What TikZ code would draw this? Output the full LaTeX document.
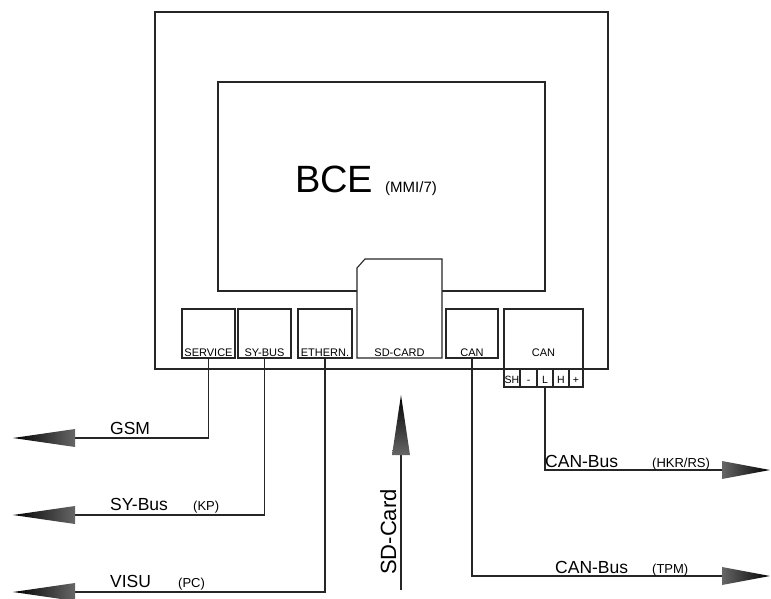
\documentclass[tikz,border=0pt]{standalone}
\usepackage{fontspec}
\setmainfont{Liberation Sans}
\begin{document}
\begin{tikzpicture}[x=1pt,y=-1pt, line join=miter,
 ln/.style={line width=1.1pt, draw=black!85},
 box/.style={ln, rectangle, inner sep=0pt, outer sep=0pt, anchor=north west},
 lbl/.style={font=\fontsize{11}{12}\selectfont, inner sep=0pt, anchor=base},
 pinlbl/.style={font=\fontsize{10.5}{11}\selectfont, inner sep=0pt, anchor=base},
 big/.style={font=\fontsize{17.5}{20}\selectfont, inner sep=0pt, anchor=base west},
 sml/.style={font=\fontsize{13}{15}\selectfont, inner sep=0pt, anchor=base west},
 arrL/.style={left color=black, right color=black!60},
 arrR/.style={right color=black, left color=black!60},
 arrU/.style={top color=black, bottom color=black!60}]
\useasboundingbox (0,0) rectangle (771,599);
% housing
\node[box, minimum width=453pt, minimum height=357pt] (outer) at (155,12) {};
\node[box, line width=1.5pt, minimum width=327pt, minimum height=209pt] (disp) at (218,82) {};
\node[font=\fontsize{38}{40}\selectfont, anchor=base west, inner sep=0pt] (bce) at (295,192) {BCE};
\node[font=\fontsize{15}{17}\selectfont, anchor=base west, inner sep=0pt] (mmi) at (385,192) {(MMI/7)};
% SD card
\draw[ln, fill=white] (357,358) -- (357,268) -- (365,259) -- (442,259) -- (442,358) -- cycle;
\node[lbl] (sdlbl) at (399.5,356) {SD-CARD};
% ports
\node[box, minimum width=53pt, minimum height=49pt] (service) at (182,309) {};
\node[box, minimum width=53pt, minimum height=49pt] (sybus) at (238,309) {};
\node[box, minimum width=54pt, minimum height=49pt] (ethern) at (298,309) {};
\node[box, minimum width=52pt, minimum height=49pt] (canA) at (446,309) {};
\node[box, minimum width=79pt, minimum height=78pt] (canB) at (504,309) {};
\draw[ln] (outer.south west) -- (outer.south east);
\node[lbl] (servicelbl) at (208.5,356) {SERVICE};
\node[lbl] (sybuslbl) at (264.5,356) {SY-BUS};
\node[lbl] (ethernlbl) at (325,356) {ETHERN.};
\node[lbl] (canAlbl) at (472,356) {CAN};
\node[lbl] (canBlbl) at (543.5,356) {CAN};
% pins
\draw[ln] (520,369) -- (520,387) (537,369) -- (537,387) (553,369) -- (553,387) (569,369) -- (569,387);
\node[pinlbl] (pSH) at (512,383.5) {SH};
\node[pinlbl] (pM) at (528.5,383.5) {-};
\node[pinlbl] (pL) at (545,383.5) {L};
\node[pinlbl] (pH) at (561,383.5) {H};
\node[pinlbl] (pP) at (576,383.5) {+};
\coordinate (pinL) at (545,387);
% connectors
\coordinate (gsmA) at (75,438);
\coordinate (syA) at (75,515);
\coordinate (visuA) at (75,592);
\coordinate (hkrA) at (722,470);
\coordinate (tpmA) at (722,576);
\coordinate (sdA) at (401,455);
\coordinate (sdB) at (401,590);
\draw[ln] (service.south) |- (gsmA);
\draw[ln] (sybus.south) |- (syA);
\draw[ln] (ethern.south) |- (visuA);
\draw[ln] (pinL) |- (hkrA);
\draw[ln] (canA.south) |- (tpmA);
\draw[ln] (sdB) -- (sdA);
% arrow heads
\shade[arrL] (gsmA) ++(0,-9) -- ++(-62,9) -- ++(62,9) -- cycle;
\shade[arrL] (syA) ++(0,-9) -- ++(-62,9) -- ++(62,9) -- cycle;
\shade[arrL] (visuA) ++(0,-9) -- ++(-62,9) -- ++(62,9) -- cycle;
\shade[arrR] (hkrA) ++(0,-9) -- ++(48,9) -- ++(-48,9) -- cycle;
\shade[arrR] (tpmA) ++(0,-9) -- ++(48,9) -- ++(-48,9) -- cycle;
\shade[arrU] (sdA) ++(-9,0) -- ++(9,-60) -- ++(9,60) -- cycle;
% labels
\node[big] (gsm) at (110,434) {GSM};
\node[big] (syt) at (110,510) {SY-Bus};
\node[sml] (kp) at (193,510) {(KP)};
\node[big] (visu) at (110,587) {VISU};
\node[sml] (pc) at (178,587) {(PC)};
\node[big] (canbus1) at (545,467) {CAN-Bus};
\node[sml] (hkr) at (652,467) {(HKR/RS)};
\node[big] (canbus2) at (555,573) {CAN-Bus};
\node[sml] (tpm) at (652,573) {(TPM)};
\node[font=\fontsize{22}{24}\selectfont, inner sep=0pt, anchor=base west, rotate=90] (sdcard) at (396,575) {SD-Card};
\end{tikzpicture}
\end{document}
